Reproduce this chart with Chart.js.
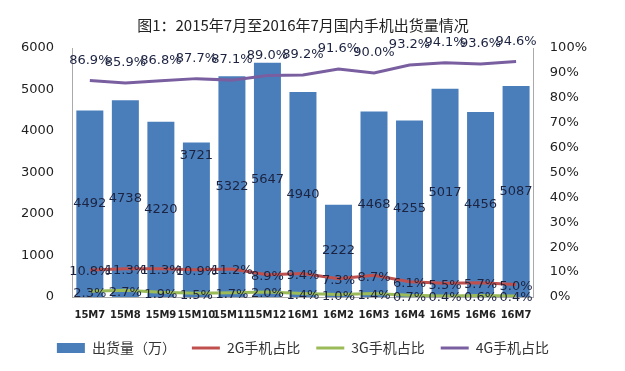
<!DOCTYPE html>
<html>
<head>
<meta charset="utf-8">
<script src="https://cdn.jsdelivr.net/npm/chart.js@4"></script>
<style>
  html, body { margin: 0; padding: 0; background: #fff; }
  #wrap { width: 625px; height: 371px; position: relative; }
</style>
</head>
<body>
<div id="wrap"><canvas id="shipChart" width="625" height="371"></canvas></div>
<script>
const months = ['15M7', '15M8', '15M9', '15M10', '15M11', '15M12', '16M1', '16M2', '16M3', '16M4', '16M5', '16M6', '16M7'];
const shipments = [4492, 4738, 4220, 3721, 5322, 5647, 4940, 2222, 4468, 4255, 5017, 4456, 5087];
const share2G = [10.8, 11.3, 11.3, 10.9, 11.2, 8.9, 9.4, 7.3, 8.7, 6.1, 5.5, 5.7, 5.0];
const share3G = [2.3, 2.7, 1.9, 1.5, 1.7, 2.0, 1.4, 1.0, 1.4, 0.7, 0.4, 0.6, 0.4];
const share4G = [86.9, 85.9, 86.8, 87.7, 87.1, 89.0, 89.2, 91.6, 90.0, 93.2, 94.1, 93.6, 94.6];

const labelFont = '13px "DejaVu Sans", sans-serif';

// draws the value labels like the Excel data labels
const valueLabels = {
    id: 'valueLabels',
    afterDatasetsDraw(chart) {
        const ctx = chart.ctx;
        ctx.save();
        ctx.font = labelFont;
        ctx.fillStyle = '#1c2340';
        ctx.textAlign = 'center';
        ctx.textBaseline = 'middle';
        chart.data.datasets.forEach((ds, i) => {
            const meta = chart.getDatasetMeta(i);
            meta.data.forEach((el, j) => {
                let x = el.x, y = el.y;
                let txt;
                if (ds.type === 'bar') {
                    txt = String(ds.data[j]);
                    y = (el.y + el.base) / 2;
                    if (j === 3) y = el.y + 13;
                } else {
                    txt = ds.data[j].toFixed(1) + '%';
                    if (ds.key === '4G') y = el.y - 20;
                    else y = el.y + 2;
                }
                ctx.fillText(txt, x, y);
            });
        });
        ctx.restore();
    }
};

const ctx = document.getElementById('shipChart').getContext('2d');
const chart = new Chart(ctx, {
    data: {
        labels: months,
        datasets: [
            {
                type: 'bar',
                label: '出货量（万）',
                data: shipments,
                backgroundColor: '#4a7ebb',
                pointStyle: 'rect',
                yAxisID: 'y',
                barPercentage: 0.76,
                categoryPercentage: 1.0,
                order: 2
            },
            {
                type: 'line',
                key: '2G',
                label: '2G手机占比',
                data: share2G,
                borderColor: '#c0504d',
                backgroundColor: '#c0504d',
                borderWidth: 3,
                pointRadius: 0,
                pointStyle: 'line',
                yAxisID: 'y1',
                order: 1
            },
            {
                type: 'line',
                key: '3G',
                label: '3G手机占比',
                data: share3G,
                borderColor: '#9bbb59',
                backgroundColor: '#9bbb59',
                borderWidth: 3,
                pointRadius: 0,
                pointStyle: 'line',
                yAxisID: 'y1',
                order: 1
            },
            {
                type: 'line',
                key: '4G',
                label: '4G手机占比',
                data: share4G,
                borderColor: '#7a5fa0',
                backgroundColor: '#7a5fa0',
                borderWidth: 3,
                pointRadius: 0,
                pointStyle: 'line',
                yAxisID: 'y1',
                order: 1
            }
        ]
    },
    options: {
        responsive: false,
        animation: false,
        layout: { padding: { top: 8, left: 11, right: 30, bottom: 6 } },
        plugins: {
            title: {
                display: true,
                text: '图1：2015年7月至2016年7月国内手机出货量情况',
                color: '#222',
                font: { size: 15, family: '"Noto Sans CJK SC", sans-serif', weight: 'normal' },
                padding: { top: 8, bottom: 14 }
            },
            legend: {
                position: 'bottom',
                labels: {
                    color: '#333',
                    font: { size: 14, family: '"Noto Sans CJK SC", sans-serif' },
                    usePointStyle: true,
                    pointStyleWidth: 28,
                    boxHeight: 10,
                    padding: 16,
                    sort: (a, b) => a.datasetIndex - b.datasetIndex
                }
            },
            tooltip: { enabled: false }
        },
        scales: {
            x: {
                grid: { display: false },
                border: { color: '#aaa' },
                ticks: {
                    color: '#222',
                    padding: 4,
                    font: { size: 10, weight: 'bold', family: '"DejaVu Sans", sans-serif' },
                    maxRotation: 0,
                    autoSkip: false
                }
            },
            y: {
                position: 'left',
                min: 0,
                max: 6000,
                grid: { display: false },
                border: { color: '#aaa' },
                ticks: {
                    stepSize: 1000,
                    color: '#222',
                    padding: 10,
                    font: { size: 13, family: '"DejaVu Sans", sans-serif' },
                    callback: v => String(v)
                }
            },
            y1: {
                position: 'right',
                min: 0,
                max: 100,
                grid: { display: false },
                border: { color: '#aaa' },
                ticks: {
                    stepSize: 10,
                    color: '#222',
                    padding: 8,
                    font: { size: 13, family: '"DejaVu Sans", sans-serif' },
                    callback: v => v + '%'
                }
            }
        }
    },
    plugins: [valueLabels]
});
</script>
</body>
</html>
